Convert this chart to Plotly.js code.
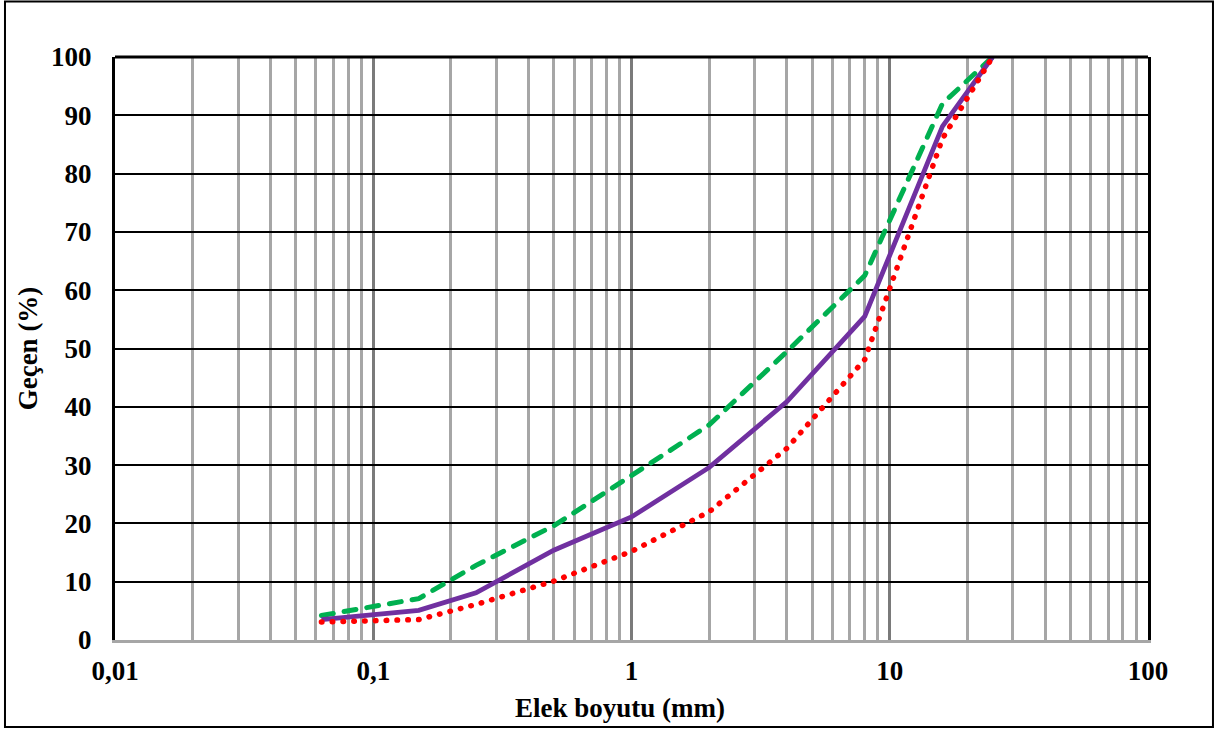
<!DOCTYPE html>
<html>
<head>
<meta charset="utf-8">
<script src="https://cdn.plot.ly/plotly-3.0.1.min.js"></script>
<style>
  html, body { margin: 0; padding: 0; background: #ffffff; }
  #chart { width: 1225px; height: 733px; }
</style>
</head>
<body>
<div id="chart"></div>
<script>
// Sieve sizes (mm)
const sieveSizes = [0.063, 0.15, 0.25, 0.5, 1, 2, 4, 8, 16, 25];
// Percent passing for each curve
const greenPassing  = [4.2, 7.1, 12.8, 19.6, 28.2, 36.9, 49.5, 62.5, 92.0, 100];
const purplePassing = [3.5, 5.1, 8.1, 15.4, 21.1, 29.6, 40.9, 55.5, 88.1, 100];
const redPassing    = [3.1, 3.5, 6.1, 10.1, 15.2, 22.0, 32.9, 48.1, 86.0, 100];

const xTickVals = [0.01, 0.1, 1, 10, 100];
const xTickText = ['0,01', '0,1', '1', '10', '100'];
const yTickVals = [0, 10, 20, 30, 40, 50, 60, 70, 80, 90, 100];

const xTitle = 'Elek boyutu (mm)';
const yTitle = 'Geçen (%)';

const fontFamily = '"Liberation Serif", "Times New Roman", Times, serif';
const textFont = { family: fontFamily, size: 27, color: '#000000', weight: 'bold' };

const traces = [
  {
    x: sieveSizes, y: greenPassing, type: 'scatter', mode: 'lines',
    name: 'green', line: { color: '#00b050', width: 5, dash: '12px,11px' },
    hoverinfo: 'skip'
  },
  {
    x: sieveSizes, y: purplePassing, type: 'scatter', mode: 'lines',
    name: 'purple', line: { color: '#7030a0', width: 4.8 },
    hoverinfo: 'skip'
  },
  {
    x: sieveSizes, y: redPassing, type: 'scatter', mode: 'lines',
    name: 'red', line: { color: '#ff0000', width: 5.5, dash: '0.5px,10.3px' },
    hoverinfo: 'skip'
  }
];

const layout = {
  width: 1225, height: 733,
  margin: { l: 115, r: 77, t: 57, b: 93, pad: 0 },
  paper_bgcolor: '#ffffff', plot_bgcolor: '#ffffff',
  showlegend: false,
  font: textFont,
  xaxis: {
    type: 'log',
    range: [-2, 2],
    tickvals: xTickVals,
    ticktext: xTickText,
    ticks: '',
    ticklabelstandoff: 5,
    tickfont: textFont,
    showgrid: true, gridcolor: '#7a7a7a', gridwidth: 3,
    minor: { dtick: 'D1', showgrid: true, gridcolor: '#a6a6a6', gridwidth: 3, ticks: '' },
    showline: true, linecolor: '#a6a6a6', linewidth: 2.5,
    zeroline: false,
    automargin: false, fixedrange: true
  },
  yaxis: {
    range: [0, 100],
    tickvals: yTickVals,
    ticks: '',
    ticklabelstandoff: 15,
    tickfont: textFont,
    showgrid: true, gridcolor: '#000000', gridwidth: 2,
    showline: true, linecolor: '#000000', linewidth: 3, mirror: true,
    zeroline: false,
    title: { text: yTitle, standoff: 6, font: textFont },
    automargin: false, fixedrange: true
  },
  annotations: [
    { text: xTitle, xref: 'paper', yref: 'paper', x: 0.4884, y: -0.1167,
      xanchor: 'center', yanchor: 'middle', showarrow: false, font: textFont }
  ],
  shapes: [
    { type: 'line', xref: 'paper', yref: 'paper', x0: 0, x1: 1, y0: 1, y1: 1,
      line: { color: '#000000', width: 3 }, layer: 'above' },
    { type: 'rect', xref: 'paper', yref: 'paper',
      x0: -0.1065, x1: 1.0629, y0: -0.1494, y1: 1.0953,
      line: { color: '#000000', width: 2 }, fillcolor: 'rgba(0,0,0,0)', layer: 'above' }
  ]
};

Plotly.newPlot('chart', traces, layout, { displayModeBar: false, staticPlot: true }).then(function () {
  const paths = document.querySelectorAll('g.trace.scatter path.js-line');
  paths.forEach(function (p, i) {
    if (i === 0 || i === 2) { p.style.strokeLinecap = 'round'; }
  });
});
</script>
</body>
</html>
